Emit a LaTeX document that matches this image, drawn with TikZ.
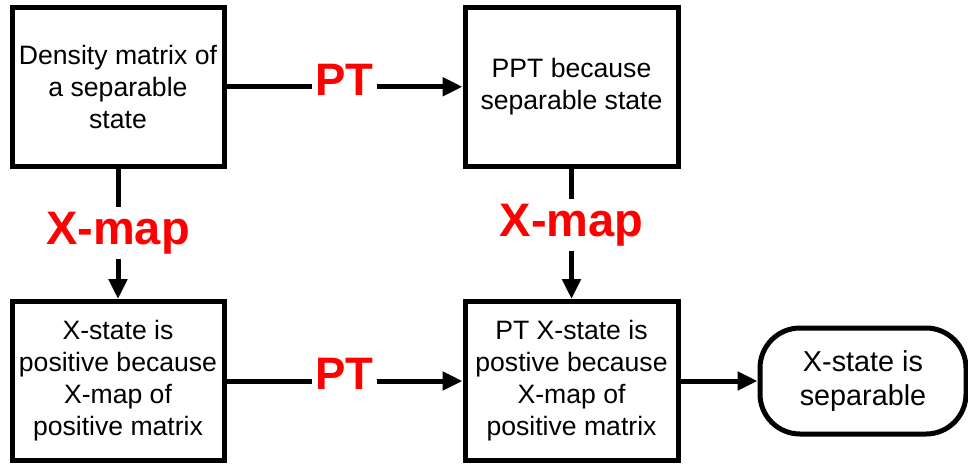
\documentclass[tikz,border=0pt]{standalone}
\usepackage{fontspec}
\setmainfont{Liberation Sans}
\usepackage{xcolor}
\definecolor{mapRed}{RGB}{255,0,0}
\usetikzlibrary{positioning,arrows.meta}

\begin{document}
\begin{tikzpicture}[
  x=1pt,y=-1pt,
  stepbox/.style={draw,line width=5pt,align=center,inner sep=0pt,
    font=\fontsize{26.6pt}{32pt}\selectfont},
  endbox/.style={stepbox,rounded corners=40pt,
    font=\fontsize{28.8pt}{34pt}\selectfont},
  flow/.style={-{Triangle[length=20pt,width=18pt]},line width=5pt},
  opname/.style={fill=white,text=mapRed,inner sep=3pt,
    font=\fontsize{45.5pt}{50pt}\selectfont\bfseries},
  mapname/.style={opname,inner sep=5pt,
    font=\fontsize{47pt}{52pt}\selectfont\bfseries}]

  \useasboundingbox (0,0) rectangle (968,464);

  \node[stepbox,minimum width=212pt,minimum height=158.5pt] (sep) at (118,86.75)
    {Density matrix of\\a separable\\state};
  \node[stepbox,minimum width=213pt,minimum height=158.5pt] (ppt) at (571.5,86.75)
    {PPT because\\separable state};
  \node[stepbox,minimum width=212pt,minimum height=159pt] (xpos) at (118,381)
    {X-state is\\positive because\\X-map of\\positive matrix};
  \node[stepbox,minimum width=213pt,minimum height=159pt] (ptx) at (571.5,381)
    {PT X-state is\\postive because\\X-map of\\positive matrix};
  \node[endbox,minimum width=206pt,minimum height=106pt] (xsep) at (863,381)
    {X-state is\\separable};

  \draw[flow] (sep) -- node[opname,yshift=7pt]{PT} (ppt);
  \draw[flow] (xpos) -- node[opname,yshift=7pt]{PT} (ptx);
  \draw[flow] (sep) -- node[mapname,yshift=1pt]{X-map} (xpos);
  \draw[flow] (ppt) -- node[mapname,yshift=9pt]{X-map} (ptx);
  \draw[flow] (ptx) -- (xsep);
\end{tikzpicture}
\end{document}
